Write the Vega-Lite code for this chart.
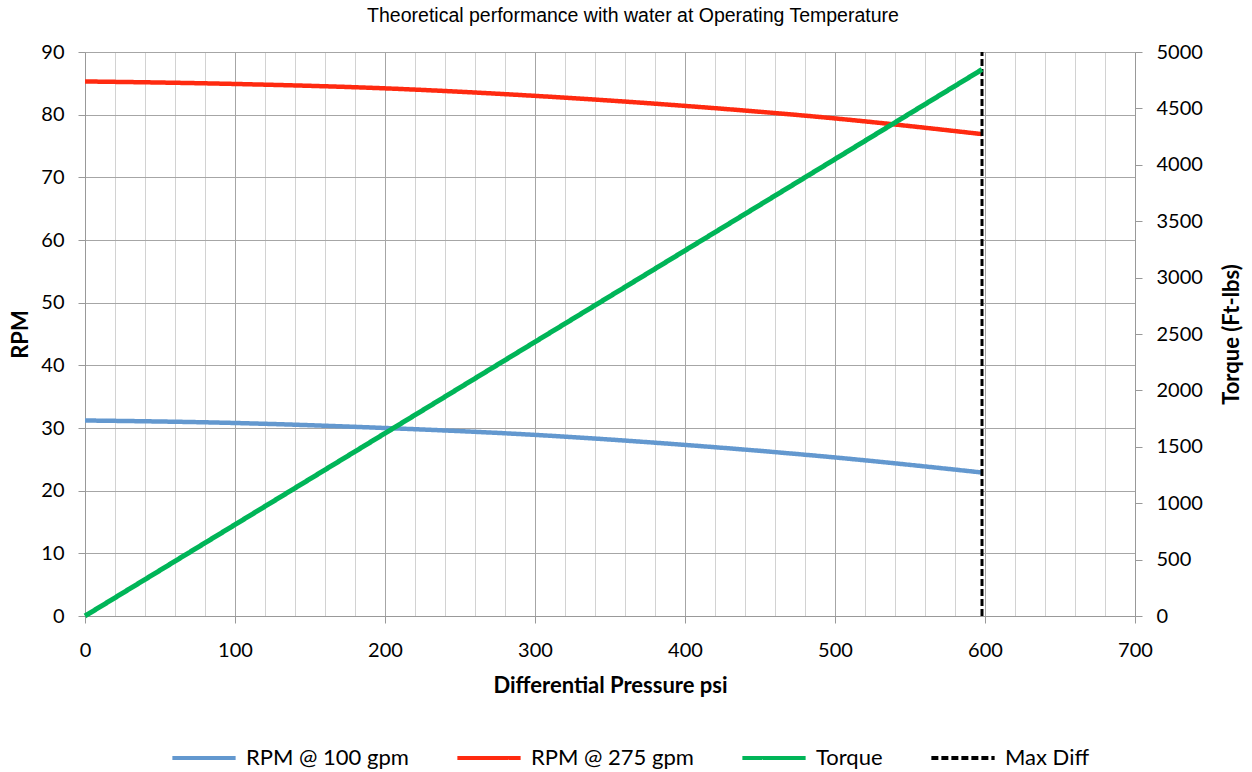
{
  "$schema": "https://vega.github.io/schema/vega-lite/v6.json",
  "width": 1050,
  "height": 564,
  "autosize": {"type": "none"},
  "padding": {"left": 85, "top": 52, "right": 117, "bottom": 156},
  "background": "white",
  "title": {
    "text": "Theoretical performance with water at Operating Temperature",
    "font": "Liberation Sans Narrow, Liberation Sans",
    "fontSize": 19.5,
    "fontWeight": "normal",
    "color": "#000000",
    "anchor": "middle",
    "frame": "group",
    "dx": 23,
    "offset": 16
  },
  "config": {
    "view": {"stroke": null},
    "font": "Lato",
    "axis": {
      "labelFont": "Lato",
      "labelFontSize": 20,
      "labelColor": "#000000",
      "titleFont": "Lato",
      "titleFontSize": 22,
      "titleFontWeight": "bold",
      "titleColor": "#000000",
      "domainColor": "#999999",
      "tickColor": "#999999",
      "tickSize": 7,
      "labelPadding": 14
    },
    "legend": {
      "labelFont": "Lato",
      "labelFontSize": 22,
      "labelColor": "#000000",
      "labelLimit": 400
    }
  },
  "datasets": {
    "rpm": [
      {"series": "RPM @ 100 gpm", "psi": 0, "rpm": 31.2},
      {"series": "RPM @ 100 gpm", "psi": 100, "rpm": 30.8},
      {"series": "RPM @ 100 gpm", "psi": 200, "rpm": 30.0},
      {"series": "RPM @ 100 gpm", "psi": 300, "rpm": 28.9},
      {"series": "RPM @ 100 gpm", "psi": 400, "rpm": 27.3},
      {"series": "RPM @ 100 gpm", "psi": 500, "rpm": 25.3},
      {"series": "RPM @ 100 gpm", "psi": 598, "rpm": 22.9},
      {"series": "RPM @ 275 gpm", "psi": 0, "rpm": 85.3},
      {"series": "RPM @ 275 gpm", "psi": 100, "rpm": 84.9},
      {"series": "RPM @ 275 gpm", "psi": 200, "rpm": 84.2},
      {"series": "RPM @ 275 gpm", "psi": 300, "rpm": 83.0},
      {"series": "RPM @ 275 gpm", "psi": 400, "rpm": 81.4},
      {"series": "RPM @ 275 gpm", "psi": 500, "rpm": 79.4},
      {"series": "RPM @ 275 gpm", "psi": 598, "rpm": 76.9}
    ],
    "maxdiff": [
      {"series": "Max Diff", "psi": 598, "rpm": 0},
      {"series": "Max Diff", "psi": 598, "rpm": 90}
    ],
    "torque": [
      {"series": "Torque", "psi": 0, "torque": 0},
      {"series": "Torque", "psi": 100, "torque": 810},
      {"series": "Torque", "psi": 200, "torque": 1620},
      {"series": "Torque", "psi": 300, "torque": 2430},
      {"series": "Torque", "psi": 400, "torque": 3240},
      {"series": "Torque", "psi": 500, "torque": 4050},
      {"series": "Torque", "psi": 598, "torque": 4845}
    ]
  },
  "encoding": {
    "x": {
      "field": "psi",
      "type": "quantitative",
      "scale": {"domain": [0, 700], "nice": false, "zero": true},
      "axis": {
        "title": "Differential Pressure psi",
        "values": [0,20,40,60,80,100,120,140,160,180,200,220,240,260,280,300,320,340,360,380,400,420,440,460,480,500,520,540,560,580,600,620,640,660,680,700],
        "labelExpr": "datum.value % 100 === 0 ? datum.label : ''",
        "grid": true,
        "gridColor": {"condition": {"test": "datum.value % 100 === 0", "value": "#a6a6a6"}, "value": "#d2d2d2"},
        "gridWidth": 1,
        "tickOpacity": {"condition": {"test": "datum.value % 100 === 0", "value": 1}, "value": 0},
        "labelPadding": 17,
        "titlePadding": 15,
        "labelFlush": false
      }
    }
  },
  "layer": [
    {
      "data": {"name": "rpm"},
      "mark": {"type": "line", "strokeWidth": 4.5, "interpolate": "monotone"},
      "encoding": {
        "y": {
          "field": "rpm",
          "type": "quantitative",
          "scale": {"domain": [0, 90], "nice": false},
          "axis": {
            "title": "RPM",
            "orient": "left",
            "values": [0,10,20,30,40,50,60,70,80,90],
            "grid": true,
            "gridColor": "#a6a6a6",
            "gridWidth": 1,
            "titlePadding": 8
          }
        },
        "color": {"field": "series", "type": "nominal"},
        "strokeDash": {"field": "series", "type": "nominal"}
      }
    },
    {
      "data": {"name": "maxdiff"},
      "mark": {"type": "line", "strokeWidth": 3},
      "encoding": {
        "y": {"field": "rpm", "type": "quantitative", "scale": {"domain": [0, 90], "nice": false}, "axis": null},
        "color": {"field": "series", "type": "nominal"},
        "strokeDash": {"field": "series", "type": "nominal"}
      }
    },
    {
      "data": {"name": "torque"},
      "mark": {"type": "line", "strokeWidth": 5},
      "encoding": {
        "y": {
          "field": "torque",
          "type": "quantitative",
          "scale": {"domain": [0, 5000], "nice": false},
          "axis": {
            "title": "Torque (Ft-lbs)",
            "orient": "right",
            "format": "d",
            "values": [0,500,1000,1500,2000,2500,3000,3500,4000,4500,5000],
            "grid": false,
            "titleAngle": 270,
            "titlePadding": 41
          }
        },
        "color": {
          "field": "series",
          "type": "nominal",
          "scale": {
            "domain": ["RPM @ 100 gpm", "RPM @ 275 gpm", "Torque", "Max Diff"],
            "range": ["#6398cf", "#ff2a10", "#00b558", "#000000"]
          },
          "legend": {
            "title": null,
            "orient": "none",
            "direction": "horizontal",
            "legendX": 85,
            "legendY": 672,
            "symbolType": "stroke",
            "symbolSize": 4000,
            "symbolStrokeWidth": 4,
            "labelOffset": 8,
            "labelLimit": 400,
            "columnPadding": 40,
            "columns": 4
          }
        },
        "strokeDash": {
          "field": "series",
          "type": "nominal",
          "scale": {
            "domain": ["RPM @ 100 gpm", "RPM @ 275 gpm", "Torque", "Max Diff"],
            "range": [[1, 0], [1, 0], [1, 0], [7, 3]]
          }
        }
      }
    }
  ],
  "resolve": {"scale": {"y": "independent"}}
}
